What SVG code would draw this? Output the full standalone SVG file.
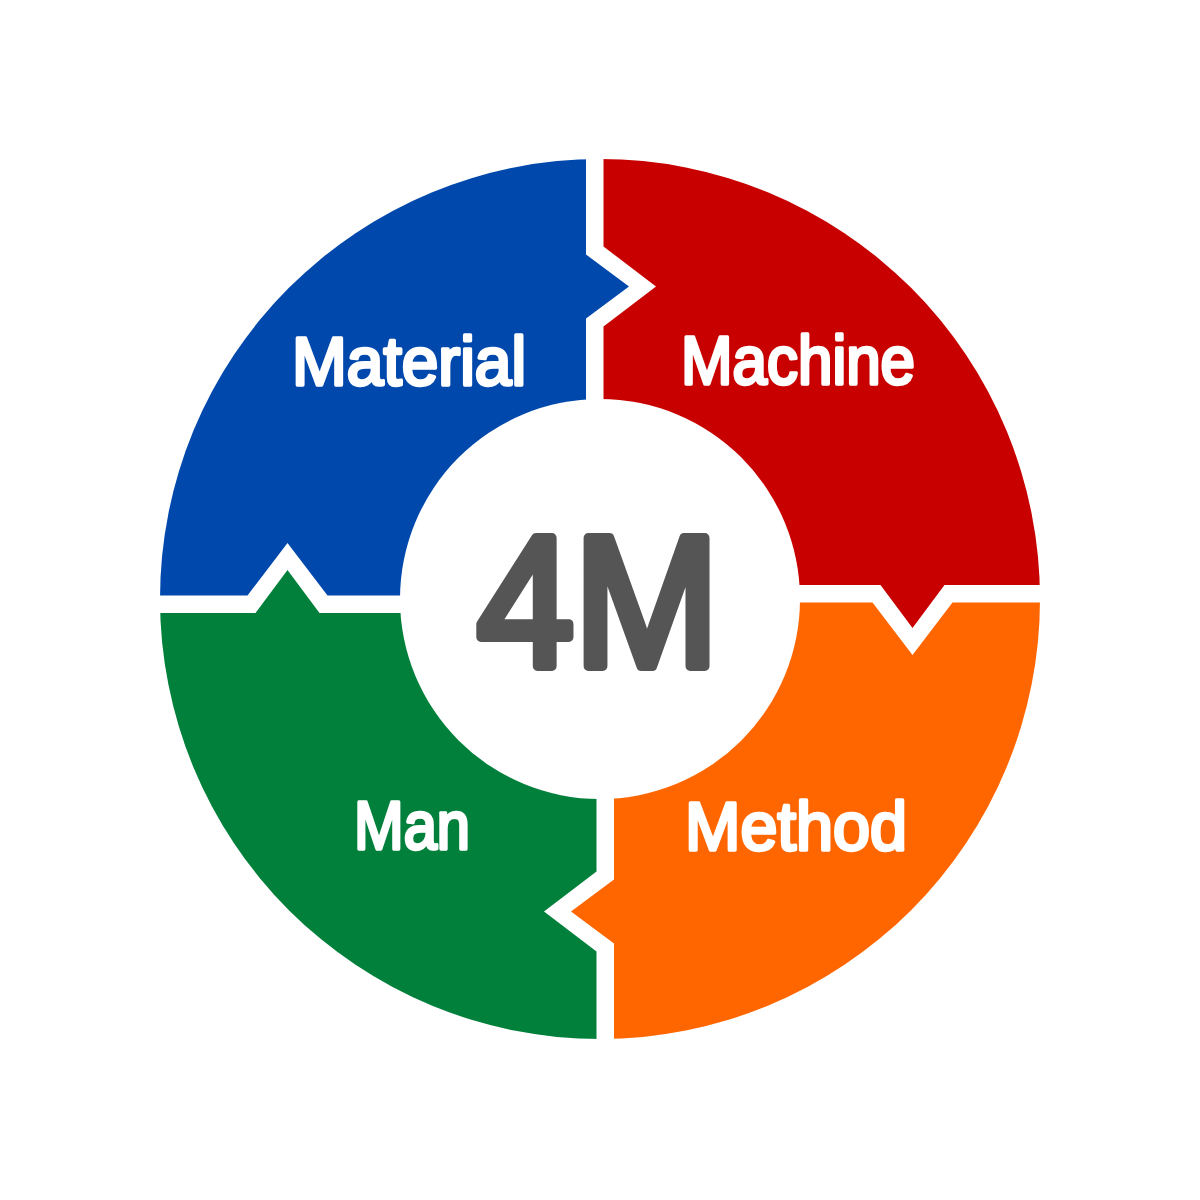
<svg xmlns="http://www.w3.org/2000/svg" width="1200" height="1200" viewBox="0 0 1200 1200">
<style>
.lbl{font-family:"Liberation Sans",Arial,sans-serif;font-weight:normal;font-size:68px;fill:#fff;stroke:#fff;stroke-width:3.5;stroke-linejoin:round;stroke-linecap:round}
.center{font-family:"Liberation Sans",Arial,sans-serif;font-weight:normal;font-size:186px;fill:#555555;stroke:#555555;stroke-width:10;stroke-linejoin:round;stroke-linecap:round}
</style>
<defs>
<clipPath id="outer" clipPathUnits="userSpaceOnUse"><circle cx="600" cy="599" r="440"/></clipPath>
<path id="piece" d="M603.5,100 L603.5,246.5 L656,286.5 L603.5,326.5 L603.5,585 L880.5,585 L912.5,628 L944.5,585 L1100,585 L1100,100 Z"/>
</defs>
<rect width="1200" height="1200" fill="#ffffff"/>
<g id="connectors"></g>
<g id="machine">
<use href="#piece" fill="#C80000" clip-path="url(#outer)"/>
<text class="lbl" x="681" y="384" textLength="234" lengthAdjust="spacingAndGlyphs">Machine</text>
</g>
<g id="method">
<use href="#piece" fill="#FF6600" clip-path="url(#outer)" transform="rotate(90 600 599)"/>
<text class="lbl" x="685" y="850" textLength="222" lengthAdjust="spacingAndGlyphs">Method</text>
</g>
<g id="man">
<use href="#piece" fill="#00803A" clip-path="url(#outer)" transform="rotate(180 600 599)"/>
<text class="lbl" x="354" y="849" textLength="116" lengthAdjust="spacingAndGlyphs">Man</text>
</g>
<g id="material">
<use href="#piece" fill="#0048AC" clip-path="url(#outer)" transform="rotate(270 600 599)"/>
<text class="lbl" x="292" y="385" textLength="234" lengthAdjust="spacingAndGlyphs">Material</text>
</g>
<g id="center-4m">
<circle cx="600" cy="599" r="200" fill="#ffffff"/>
<text class="center" x="477" y="666" textLength="242" lengthAdjust="spacingAndGlyphs">4M</text>
</g>
</svg>
